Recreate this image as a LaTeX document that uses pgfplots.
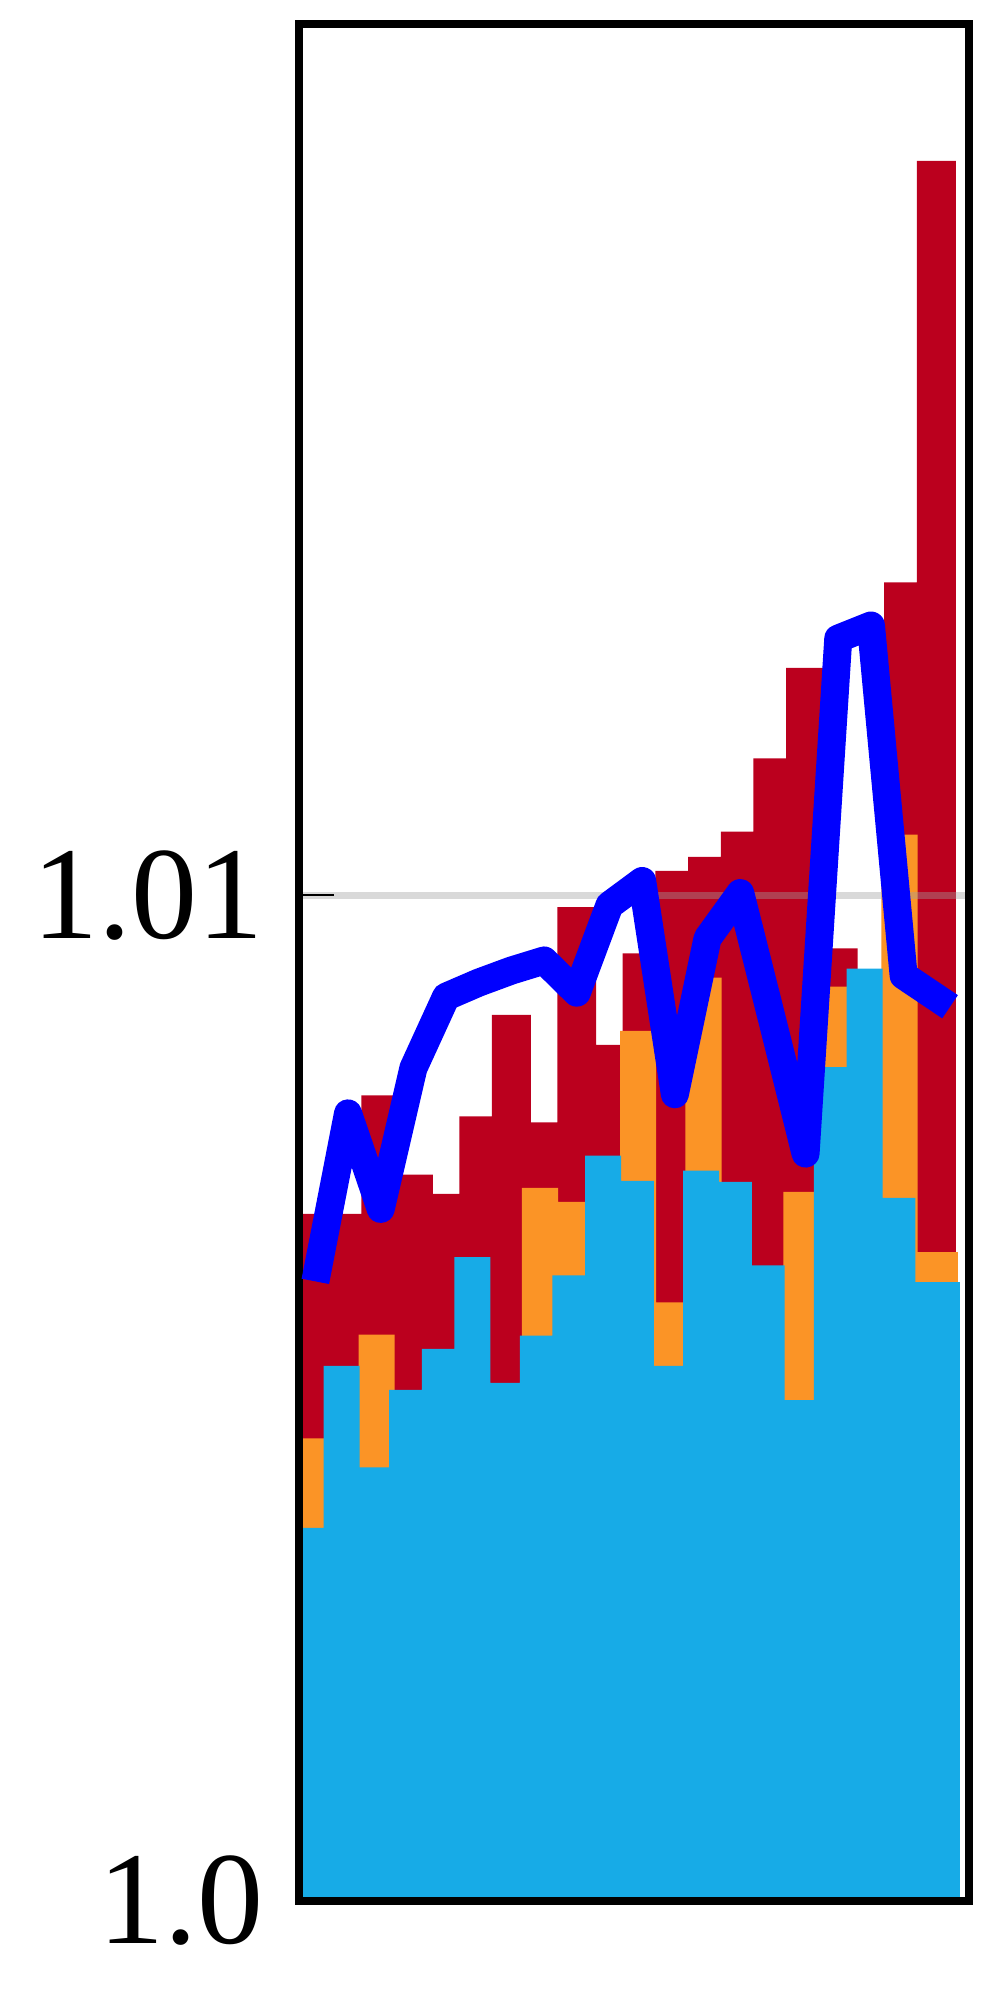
\documentclass[border=0pt]{standalone}
\usepackage{pgfplots}
\pgfplotsset{compat=1.18}
\usepackage{pgfplotstable}
\usepackage{fontspec}
\setmainfont{Liberation Serif}
\definecolor{cred}{RGB}{187,0,30}
\definecolor{corange}{RGB}{251,148,38}
\definecolor{ccyan}{RGB}{23,171,231}
\definecolor{cgrid}{RGB}{160,160,160}

\pgfplotstableread{
x v
0 1.00683
1 1.00683
2 1.00801
3 1.00722
4 1.00703
5 1.00780
6 1.00881
7 1.00774
8 1.00988
9 1.00851
10 1.00942
11 1.01024
12 1.01038
13 1.01063
14 1.01136
15 1.01226
16 1.00947
17 1.00896
18 1.01311
19 1.01730
}\redtab

\pgfplotstableread{
x v
0 1.00460
1 1.00498
2 1.00563
3 1.00478
4 1.00518
5 1.00498
6 1.00488
7 1.00709
8 1.00695
9 1.00717
10 1.00865
11 1.00595
12 1.00918
13 1.00607
14 1.00607
15 1.00705
16 1.00909
17 1.00896
18 1.01060
19 1.00645
}\orangetab

\pgfplotstableread{
x v
0 1.00371
1 1.00532
2 1.00431
3 1.00508
4 1.00549
5 1.00640
6 1.00515
7 1.00562
8 1.00622
9 1.00741
10 1.00716
11 1.00532
12 1.00726
13 1.00715
14 1.00632
15 1.00498
16 1.00829
17 1.00927
18 1.00699
19 1.00615
}\cyantab

\pgfplotstableread{
x v
0 1.00616
1 1.00783
2 1.00688
3 1.00828
4 1.00899
5 1.00913
6 1.00925
7 1.00935
8 1.00903
9 1.00990
10 1.01014
11 1.00802
12 1.00957
13 1.01002
14 1.00873
15 1.00743
16 1.01255
17 1.01268
18 1.00920
19.42 1.00889
}\bluetab

\begin{document}
\begin{tikzpicture}
\begin{axis}[
  name=ax, at={(0,0)}, anchor=south west,
  scale only axis, width=167.5pt, height=469.25pt,
  xmin=-0.5, xmax=20, ymin=0, ymax=18.66,
  xtick=\empty,
  ytick={0,10}, yticklabels={1.0,1.01},
  ytick pos=left, tick align=inside,
  major tick length=8.75pt,
  ytick style={line width=0.67pt, black},
  ymajorgrids,
  grid style={line width=1.75pt, color=cgrid, opacity=0.4},
  axis line style={line width=2pt, black},
  yticklabel style={font=\fontsize{33}{39}\selectfont, inner sep=0pt, xshift=-8.75pt},
  set layers, clip mode=individual,
]
\addplot[ybar, bar width=1.19, bar shift=0, fill=cred, draw=none, on layer=axis background]
  table[x=x, y expr=(\thisrow{v}-1)*1000] {\redtab};
\addplot[ybar, bar width=1.105, bar shift=-0.125, fill=corange, draw=none, on layer=axis background, skip coords between index={19}{20}]
  table[x=x, y expr=(\thisrow{v}-1)*1000] {\orangetab};
\addplot[ybar, bar width=1.38, bar shift=-0.02, fill=corange, draw=none, on layer=axis background, skip coords between index={0}{19}]
  table[x=x, y expr=(\thisrow{v}-1)*1000] {\orangetab};
\addplot[ybar, bar width=1.10, bar shift=-0.194, fill=ccyan, draw=none, on layer=axis background, skip coords between index={19}{20}]
  table[x=x, y expr=(\thisrow{v}-1)*1000] {\cyantab};
\addplot[ybar, bar width=1.47, bar shift=-0.01, fill=ccyan, draw=none, on layer=axis background, skip coords between index={0}{19}]
  table[x=x, y expr=(\thisrow{v}-1)*1000] {\cyantab};
\addplot[color={rgb,255:red,0;green,0;blue,255}, line width=7pt, line join=round, line cap=butt, mark=none]
  table[x=x, y expr=(\thisrow{v}-1)*1000] {\bluetab};
\end{axis}
\path (-74.75pt,-23.25pt) rectangle (174pt,475.25pt);
\end{tikzpicture}
\end{document}
